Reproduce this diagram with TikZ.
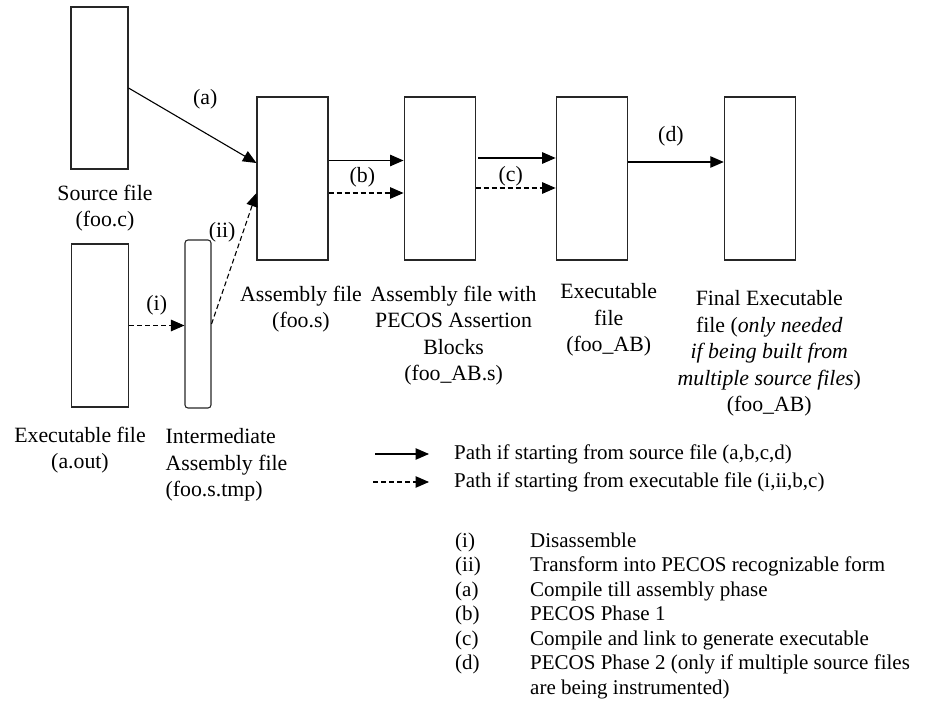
\documentclass[tikz,border=0pt]{standalone}
\usepackage{fontspec}
\setmainfont{Liberation Serif}
\usetikzlibrary{arrows.meta,positioning,calc}
\tikzset{
  filebox/.style ={rectangle, draw=black!85, line width=1.1pt, inner sep=0pt,
                   minimum width=71pt, minimum height=163pt},
  srcbox/.style  ={filebox, minimum width=57pt},
  tmpbox/.style  ={filebox, rounded corners=3pt, minimum width=26pt,
                   minimum height=168pt},
  caption/.style ={align=center, inner sep=0pt,
                   font=\fontsize{21.8}{26.5}\selectfont},
  lbl/.style     ={inner sep=1pt, font=\fontsize{21.8}{26}\selectfont},
  legtext/.style ={inner sep=0pt, font=\fontsize{21}{24.5}\selectfont},
  flow/.style    ={-{Triangle[length=13.5pt,width=11.5pt]}, line width=1.1pt, draw=black},
  dflow/.style   ={flow, dash pattern=on 5pt off 3pt}
}

\begin{document}
\begin{tikzpicture}[x=1pt, y=-1pt]
  \useasboundingbox (0,0) rectangle (935,708);

  % files
  \node[srcbox, minimum height=162pt] (src)  at (99.5,88)    {};
  \node[srcbox]                       (aout) at (100,325.5)  {};
  \node[tmpbox]                       (tmp)  at (198,324)    {};
  \node[filebox]                      (asm)  at (292.5,178.5) {};
  \node[filebox, right=75pt of asm]   (pec)  {};
  \node[filebox, right=80pt of pec]   (exe)  {};
  \node[filebox, right=96pt of exe]   (fin)  {};

  % captions
  \node[caption, below=15pt of src, xshift=5.5pt]  (srccap) {Source file\\(foo.c)};
  \node[caption, below=19pt of aout, xshift=-20pt] (aoutcap) {Executable file\\(a.out)};
  \node[caption, align=left, below right=20pt and -19pt of tmp.south west] (tmpcap)
       {Intermediate\\Assembly file\\(foo.s.tmp)};
  \node[caption, below=25pt of asm, xshift=8.5pt]  (asmcap) {Assembly file\\(foo.s)};
  \node[caption, below=25pt of pec, xshift=14pt]   (peccap)
       {Assembly file with\\PECOS Assertion\\Blocks\\(foo\_AB.s)};
  \node[caption, below=23pt of exe, xshift=17pt]   (execap) {Executable\\file\\(foo\_AB)};
  \node[caption, below=30pt of fin, xshift=9.5pt]  (fincap)
       {Final Executable\\file (\textit{only needed}\\\textit{if being built from}\\
        \textit{multiple source files})\\(foo\_AB)};

  % paths
  \draw[flow]  (src.east) -- node[lbl, pos=0.6, above=22pt] (la) {(a)} ([yshift=15.5pt]asm.west);
  \draw[dflow] (aout.east) -- node[lbl, above=9pt] (li) {(i)} (aout.east -| tmp.west);
  \draw[dflow] (tmp.east) -- node[lbl, pos=0.7, left=6pt] (lii) {(ii)} ([yshift=-14.5pt]asm.west);
  \draw[flow]  ([yshift=18pt]asm.east) -- node[lbl, pos=0.45, below=5pt] (lb) {(b)} ([yshift=18pt]pec.west);
  \draw[dflow] ([yshift=-14.5pt]asm.east) -- ([yshift=-14.5pt]pec.west);
  \draw[flow]  ([xshift=2.5pt,yshift=20.5pt]pec.east) -- node[lbl, pos=0.42, below=7pt] (lc) {(c)} ([yshift=20.5pt]exe.west);
  \draw[dflow] ([yshift=-9.5pt]pec.east) -- ([yshift=-9.5pt]exe.west);
  \draw[flow]  ([yshift=16.5pt]exe.east) -- node[lbl, pos=0.45, above=14pt] (ld) {(d)} ([yshift=16.5pt]fin.west);

  % legend
  \node[legtext, anchor=west] (psrc) at (454,454) {Path if starting from source file (a,b,c,d)};
  \node[legtext, anchor=west] (pexe) at (454,482) {Path if starting from executable file (i,ii,b,c)};
  \coordinate (psrcA) at (375,454);
  \coordinate (pexeA) at (373,482);
  \draw[flow]  (psrcA) -- ([xshift=-25pt]psrc.west);
  \draw[dflow] (pexeA) -- ([xshift=-25pt]pexe.west);

  \node[legtext, anchor=north west] (steps) at (455,530) {%
    \begin{tabular}{@{}p{75pt}@{}l@{}}
      (i)  & Disassemble\\
      (ii) & Transform into PECOS recognizable form\\
      (a)  & Compile till assembly phase\\
      (b)  & PECOS Phase 1\\
      (c)  & Compile and link to generate executable\\
      (d)  & PECOS Phase 2 (only if multiple source files\\
           & are being instrumented)
    \end{tabular}};
\end{tikzpicture}
\end{document}
